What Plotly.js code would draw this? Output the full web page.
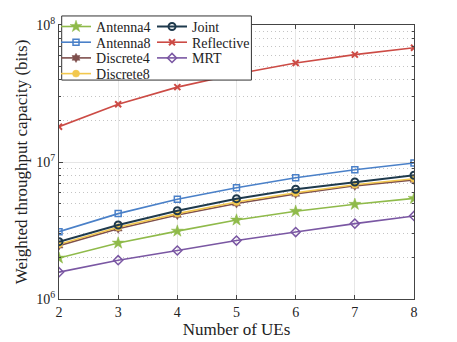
<!DOCTYPE html>
<html>
<head>
<meta charset="utf-8">
<script src="https://cdn.plot.ly/plotly-3.0.1.min.js"></script>
<style>html,body{margin:0;padding:0;background:#fff;}#chart{width:457px;height:342px;}</style>
</head>
<body>
<div id="chart"></div>
<script>
const numUEs = [2, 3, 4, 5, 6, 7, 8];
const antenna4 = [1.99e6, 2.56e6, 3.13e6, 3.77e6, 4.37e6, 4.91e6, 5.43e6];
const antenna8 = [3.10e6, 4.20e6, 5.35e6, 6.49e6, 7.68e6, 8.79e6, 9.84e6];
const discrete4 = [2.45e6, 3.26e6, 4.10e6, 4.98e6, 5.85e6, 6.70e6, 7.40e6];
const discrete8 = [2.51e6, 3.34e6, 4.20e6, 5.10e6, 5.97e6, 6.83e6, 7.55e6];
const joint = [2.62e6, 3.47e6, 4.41e6, 5.40e6, 6.32e6, 7.15e6, 8.00e6];
const reflective = [1.81e7, 2.64e7, 3.52e7, 4.39e7, 5.28e7, 6.08e7, 6.82e7];
const mrt = [1.57e6, 1.92e6, 2.26e6, 2.67e6, 3.08e6, 3.55e6, 4.04e6];
const yTickVals = [1e6, 1e7, 1e8];
const yTickText = ['10<sup>6</sup>', '10<sup>7</sup>', '10<sup>8</sup>'];
const yMinorVals = [2e6,3e6,4e6,5e6,6e6,7e6,8e6,9e6,2e7,3e7,4e7,5e7,6e7,7e7,8e7,9e7];

function tr(name, y, color, symbol, size, legend, lw, mlw) {
  return {x: numUEs, y: y, name: name, type: 'scatter', mode: 'lines+markers',
    line: {color: color, width: lw || 1.6},
    marker: {symbol: symbol, size: size, color: color, line: {color: color, width: mlw || 1.5}},
    legend: legend};
}
const traces = [
  tr('Antenna4', antenna4, '#8fba4a', 'star', 9, 'legend', 1.6, 0.5),
  tr('Antenna8', antenna8, '#4a80c8', 'square-open', 6, 'legend'),
  tr('Discrete4', discrete4, '#7e4f4c', 'hexagram', 7, 'legend', 1.6, 0.5),
  tr('Discrete8', discrete8, '#f2c84e', 'circle', 7, 'legend', 1.6, 0.5),
  tr('Joint', joint, '#1f3a4d', 'circle-open', 7, 'legend2', 2, 2),
  tr('Reflective', reflective, '#cc4b45', 'x-thin', 6, 'legend2', 1.6, 2),
  tr('MRT', mrt, '#7a57a3', 'diamond-open', 7, 'legend2')
];
const F = 'Liberation Serif, DejaVu Serif, serif';
const layout = {
  width: 457, height: 342,
  margin: {l: 59, r: 43, t: 25, b: 43},
  paper_bgcolor: '#fff', plot_bgcolor: '#fff',
  font: {family: F, size: 14, color: '#222'},
  showlegend: true,
  xaxis: {
    range: [2, 8], tickmode: 'array', tickvals: numUEs,
    ticks: 'inside', ticklen: 4, tickcolor: '#444',
    showline: true, mirror: 'ticks', linecolor: '#444', linewidth: 1,
    showgrid: true, gridcolor: '#e6e6e6', zeroline: false,
    tickfont: {family: F, size: 14},
    title: {text: 'Number of UEs', font: {family: F, size: 17}, standoff: 1}
  },
  yaxis: {
    type: 'log', range: [6, 8], tickmode: 'array', tickvals: yTickVals, ticktext: yTickText,
    ticks: 'inside', ticklen: 4, tickcolor: '#444',
    showline: true, mirror: 'ticks', linecolor: '#444', linewidth: 1,
    showgrid: true, gridcolor: '#e6e6e6', zeroline: false,
    minor: {tickmode: 'array', tickvals: yMinorVals, ticks: 'inside', ticklen: 2, tickcolor: '#444',
            showgrid: true, griddash: '1px,3px', gridcolor: '#c4c4c4', gridwidth: 1},
    tickfont: {family: F, size: 14},
    title: {text: 'Weighted throughput capacity (bits)', font: {family: F, size: 17}, standoff: 4}
  },
  shapes: [{type: 'rect', xref: 'paper', yref: 'paper', x0: 0.0076, x1: 0.542, y0: 0.799, y1: 1.033,
    fillcolor: '#fff', line: {color: '#333', width: 1}, layer: 'above'}],
  legend: {x: -0.0084, y: 1.033, xanchor: 'left', yanchor: 'top', bgcolor: 'rgba(0,0,0,0)',
    font: {family: F, size: 14}, tracegroupgap: 0, itemwidth: 30},
  legend2: {x: 0.262, y: 1.033, xanchor: 'left', yanchor: 'top', bgcolor: 'rgba(0,0,0,0)',
    font: {family: F, size: 14}, tracegroupgap: 0, itemwidth: 30}
};

const rowY0 = 26.5, rowGap = 15.7;
function tightenLegends(gd) {
  const svgRect = gd.querySelector('svg.main-svg').getBoundingClientRect();
  ['legend', 'legend2'].forEach(function (cls) {
    const lg = gd.querySelector('g.' + cls);
    if (!lg) return;
    const items = lg.querySelectorAll('g.traces');
    items.forEach(function (it, i) {
      const t = /translate\(\s*([-\d.]+)[ ,]+([-\d.]+)/.exec(it.getAttribute('transform') || '');
      const ix = t ? parseFloat(t[1]) : 0;
      const iy = t ? parseFloat(t[2]) : 0;
      const line = it.querySelector('.legendlines path') || it.querySelector('.legendpoints');
      let cy = iy;
      if (line) {
        const r = line.getBoundingClientRect();
        const mid = r.top + r.height / 2 - svgRect.top;
        cy = iy + (rowY0 + i * rowGap - mid);
      }
      it.setAttribute('transform', 'translate(' + ix + ',' + cy + ')');
    });
  });
}
const gd = document.getElementById('chart');
Plotly.newPlot(gd, traces, layout, {displayModeBar: false, staticPlot: true}).then(tightenLegends);
</script>
</body>
</html>
